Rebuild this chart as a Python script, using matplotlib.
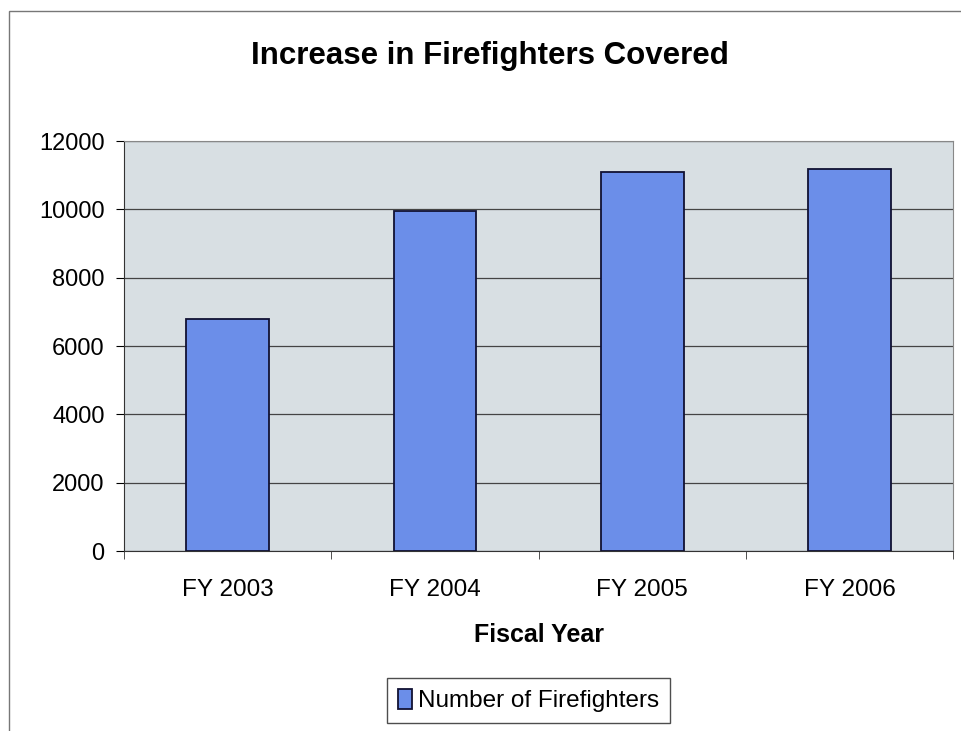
import matplotlib
matplotlib.use("Agg")
import matplotlib.pyplot as plt
from matplotlib.patches import Rectangle

# dados
anos = ["FY 2003", "FY 2004", "FY 2005", "FY 2006"]
bombeiros = [6780, 9950, 11100, 11180]
y_ticks = [0, 2000, 4000, 6000, 8000, 10000, 12000]

plt.rcParams['font.family'] = ['Liberation Sans', 'DejaVu Sans']

fig = plt.figure(figsize=(9.61, 7.31), dpi=100)
ax = fig.add_axes([0.129, 0.246, 0.863, 0.561])
ax.set_facecolor("#d8dfe3")

# borda da pagina escaneada
fig.patches.append(Rectangle((0.009, -0.1), 1.2, 1.085, transform=fig.transFigure,
                             fill=False, edgecolor="#777777", linewidth=1.0))

x = list(range(len(anos)))
ax.bar(x, bombeiros, width=0.4, color="#6b8ee9", edgecolor="#111133", linewidth=1.3,
       label="Number of Firefighters", zorder=3)

ax.set_xlim(-0.5, 3.5)
ax.set_ylim(0, 12000)
ax.set_yticks(y_ticks)
ax.set_yticklabels([str(v) for v in y_ticks], fontsize=17)
ax.yaxis.grid(True, color="#444444", linewidth=0.9, zorder=1)

ax.set_xticks(x)
ax.set_xticklabels(anos, fontsize=17.5)
ax.set_xticks([-0.5, 0.5, 1.5, 2.5, 3.5], minor=True)
ax.tick_params(axis="x", which="major", length=0, pad=20)
ax.tick_params(axis="x", which="minor", length=6, direction="out", color="#333333")
ax.tick_params(axis="y", length=6, direction="out", pad=8)

for lado in ["top", "right"]:
    ax.spines[lado].set_color("#888888")
ax.spines["left"].set_color("#333333")
ax.spines["bottom"].set_color("#333333")

ax.set_xlabel("Fiscal Year", fontsize=18, fontweight="bold", labelpad=16)
fig.text(0.51, 0.924, "Increase in Firefighters Covered", fontsize=22.5,
         fontweight="bold", ha="center", va="center")

leg = fig.legend(loc="center", bbox_to_anchor=(0.55, 0.042), fontsize=17.5,
                 frameon=True, fancybox=False, edgecolor="#222222",
                 handlelength=0.6, handleheight=0.9, handletextpad=0.25,
                 borderpad=0.45)
leg.get_frame().set_linewidth(1.0)

fig.savefig("out.png", dpi=100, facecolor="white")
